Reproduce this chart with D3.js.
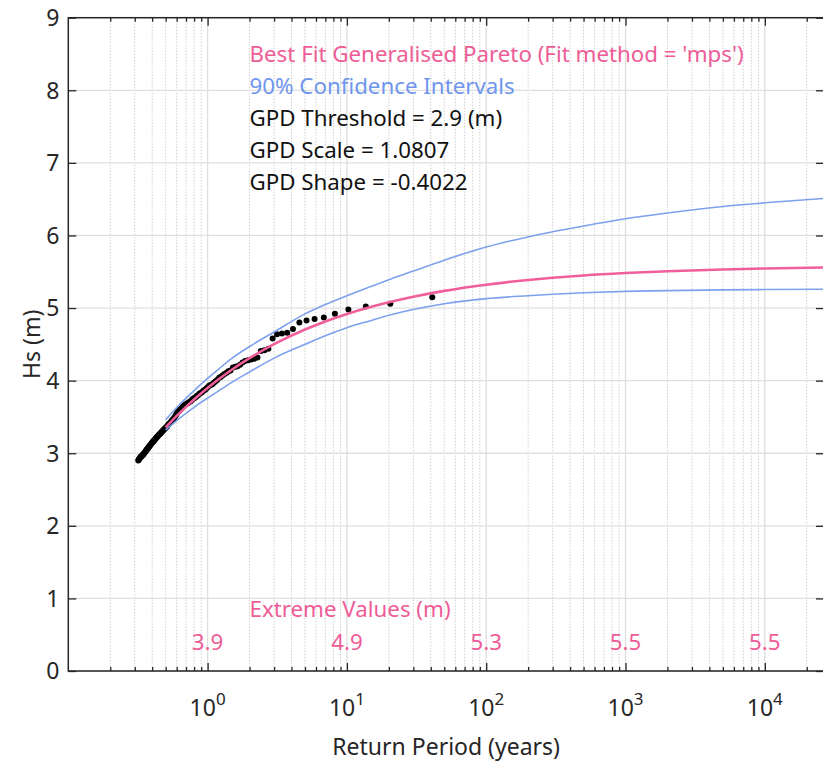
<!DOCTYPE html>
<html>
<head>
<meta charset="utf-8">
<script src="https://d3js.org/d3.v7.min.js"></script>
<style>
  body { margin: 0; background: #fff; }
  text { font-family: "Noto Sans", sans-serif; }
</style>
</head>
<body>
<div id="chart"></div>
<script>
// observed peaks over threshold: empirical return period (years) and Hs (m)
var obsT = [41.0, 20.5, 13.67, 10.25, 8.2, 6.83, 5.86, 5.13, 4.56, 4.10,
  3.73, 3.42, 3.15, 2.93, 2.73, 2.56, 2.41, 2.28, 2.16, 2.05,
  1.95, 1.86, 1.78, 1.71, 1.64, 1.58, 1.52, 1.46, 1.41, 1.37,
  1.32, 1.28, 1.24, 1.21, 1.17, 1.14, 1.11, 1.08, 1.05, 1.025,
  1.0, 0.976, 0.953, 0.932, 0.911, 0.891, 0.872, 0.854, 0.837, 0.82,
  0.804, 0.788, 0.774, 0.759, 0.745, 0.732, 0.719, 0.707, 0.695, 0.683,
  0.672, 0.661, 0.651, 0.641, 0.631, 0.621, 0.612, 0.603, 0.594, 0.586,
  0.577, 0.569, 0.562, 0.554, 0.547, 0.539, 0.532, 0.526, 0.519, 0.513,
  0.506, 0.5, 0.494, 0.488, 0.482, 0.477, 0.471, 0.466, 0.461, 0.456,
  0.451, 0.446, 0.441, 0.436, 0.432, 0.427, 0.423, 0.418, 0.414, 0.41,
  0.406, 0.402, 0.398, 0.394, 0.39, 0.387, 0.383, 0.38, 0.376, 0.373,
  0.369, 0.366, 0.363, 0.36, 0.357, 0.353, 0.35, 0.347, 0.345, 0.342,
  0.339, 0.336, 0.333, 0.331, 0.328, 0.325, 0.323, 0.32, 0.318];
var obsHs = [5.15, 5.06, 5.02, 4.98, 4.92, 4.87, 4.85, 4.83, 4.80, 4.71,
  4.66, 4.65, 4.64, 4.58, 4.44, 4.42, 4.41, 4.32, 4.30, 4.29,
  4.28, 4.27, 4.25, 4.22, 4.20, 4.19, 4.18, 4.14, 4.13, 4.11,
  4.09, 4.07, 4.05, 4.04, 4.01, 3.99, 3.97, 3.95, 3.94, 3.93,
  3.91, 3.89, 3.87, 3.86, 3.84, 3.83, 3.82, 3.80, 3.79, 3.77,
  3.76, 3.75, 3.74, 3.72, 3.71, 3.70, 3.69, 3.68, 3.67, 3.66,
  3.65, 3.64, 3.62, 3.61, 3.60, 3.58, 3.57, 3.55, 3.53, 3.51,
  3.49, 3.47, 3.46, 3.45, 3.43, 3.42, 3.41, 3.40, 3.39, 3.37,
  3.36, 3.35, 3.34, 3.33, 3.32, 3.31, 3.30, 3.29, 3.28, 3.27,
  3.26, 3.25, 3.24, 3.23, 3.22, 3.21, 3.20, 3.19, 3.18, 3.17,
  3.16, 3.15, 3.14, 3.13, 3.12, 3.11, 3.10, 3.09, 3.08, 3.07,
  3.06, 3.05, 3.04, 3.03, 3.02, 3.01, 3.00, 2.99, 2.98, 2.98,
  2.97, 2.96, 2.95, 2.95, 2.94, 2.93, 2.92, 2.91, 2.90];

// best fit curve and 90% confidence bounds
var curveT  = [0.5, 0.6, 0.7, 0.85, 1, 1.2, 1.5, 2, 3, 5, 7, 10, 15, 20, 30, 50,
  100, 200, 300, 500, 1000, 2000, 5000, 10000, 26600];
var fitHs   = [3.357, 3.514, 3.639, 3.786, 3.900, 4.019, 4.154, 4.310, 4.502, 4.704,
  4.816, 4.919, 5.019, 5.081, 5.157, 5.237, 5.322, 5.387, 5.417, 5.449,
  5.482, 5.508, 5.532, 5.545, 5.559];
var upperHs = [3.46, 3.63, 3.76, 3.91, 4.03, 4.16, 4.31, 4.47, 4.67, 4.92,
  5.05, 5.17, 5.30, 5.39, 5.51, 5.66, 5.84, 5.98, 6.05, 6.13,
  6.23, 6.31, 6.40, 6.45, 6.51];
var lowerHs = [3.32, 3.45, 3.55, 3.67, 3.76, 3.86, 3.98, 4.12, 4.31, 4.50,
  4.62, 4.73, 4.83, 4.90, 4.98, 5.06, 5.13, 5.17, 5.19, 5.21,
  5.23, 5.24, 5.25, 5.255, 5.26];

// extreme values printed along the bottom
var extremeT = [1, 10, 100, 1000, 10000];
var extremeLabels = ["3.9", "4.9", "5.3", "5.5", "5.5"];

var yTicks = [0, 1, 2, 3, 4, 5, 6, 7, 8, 9];
var xDecades = [1, 10, 100, 1000, 10000];
var xExponents = ["0", "1", "2", "3", "4"];

var infoLines = [
  {text: "Best Fit Generalised Pareto (Fit method = 'mps')", color: "#ee5d97"},
  {text: "90% Confidence Intervals", color: "#6f96ec"},
  {text: "GPD Threshold = 2.9 (m)", color: "#111"},
  {text: "GPD Scale = 1.0807", color: "#111"},
  {text: "GPD Shape = -0.4022", color: "#111"}
];

var pink = "#f05f9c", blue = "#7ea1ee", axisCol = "#262626";

var margin = {top: 17.7, left: 68.3},
    width = 824 - margin.left,
    height = 671 - margin.top;

var x = d3.scaleLog().domain([0.1, 26600]).range([0, width]);
var y = d3.scaleLinear().domain([0, 9]).range([height, 0]);

var svg = d3.select("#chart").append("svg")
    .attr("width", 823)
    .attr("height", 767)
  .append("g")
    .attr("transform", "translate(" + margin.left + "," + margin.top + ")");

// minor log ticks
var minors = [];
[0.1, 1, 10, 100, 1000, 10000].forEach(function(d) {
  for (var k = 2; k <= 9; k++) {
    if (d * k <= 26600) minors.push(d * k);
  }
});

// grid
svg.append("g").selectAll("line.minor")
    .data(minors)
  .enter().append("line")
    .attr("x1", function(d) { return x(d); })
    .attr("x2", function(d) { return x(d); })
    .attr("y1", 0).attr("y2", height)
    .attr("stroke", "#cfcfcf")
    .attr("stroke-width", 1)
    .attr("stroke-dasharray", "1.5,1.5");

svg.append("g").selectAll("line.major")
    .data(xDecades)
  .enter().append("line")
    .attr("x1", function(d) { return x(d); })
    .attr("x2", function(d) { return x(d); })
    .attr("y1", 0).attr("y2", height)
    .attr("stroke", "#dedede")
    .attr("stroke-width", 1.3);

svg.append("g").selectAll("line.hgrid")
    .data(yTicks)
  .enter().append("line")
    .attr("x1", 0).attr("x2", width)
    .attr("y1", function(d) { return y(d); })
    .attr("y2", function(d) { return y(d); })
    .attr("stroke", "#e0e0e0")
    .attr("stroke-width", 1.3);

// data points
svg.append("g").selectAll("circle")
    .data(obsT)
  .enter().append("circle")
    .attr("cx", function(d) { return x(d); })
    .attr("cy", function(d, i) { return y(obsHs[i]); })
    .attr("r", 3)
    .attr("fill", "#000");

var line = d3.line()
    .x(function(d) { return x(d[0]); })
    .y(function(d) { return y(d[1]); })
    .curve(d3.curveMonotoneX);

function pairs(vals) {
  return curveT.map(function(t, i) { return [t, vals[i]]; });
}

svg.append("path").datum(pairs(upperHs))
    .attr("d", line).attr("fill", "none")
    .attr("stroke", blue).attr("stroke-width", 1.6);
svg.append("path").datum(pairs(lowerHs))
    .attr("d", line).attr("fill", "none")
    .attr("stroke", blue).attr("stroke-width", 1.6);
svg.append("path").datum(pairs(fitHs))
    .attr("d", line).attr("fill", "none")
    .attr("stroke", pink).attr("stroke-width", 2.6);

// axes (ticks inside, MATLAB style)
svg.append("g").attr("transform", "translate(0," + height + ")")
    .call(d3.axisBottom(x).tickValues(xDecades).tickSize(-8).tickSizeOuter(0).tickFormat(""));
svg.append("g").attr("transform", "translate(0," + height + ")")
    .call(d3.axisBottom(x).tickValues(minors).tickSize(-4).tickSizeOuter(0).tickFormat(""));
svg.append("g")
    .call(d3.axisTop(x).tickValues(xDecades).tickSize(-8).tickSizeOuter(0).tickFormat(""));
svg.append("g")
    .call(d3.axisTop(x).tickValues(minors).tickSize(-4).tickSizeOuter(0).tickFormat(""));
svg.append("g")
    .call(d3.axisLeft(y).tickValues(yTicks).tickSize(-8).tickSizeOuter(0).tickFormat(""));
svg.append("g").attr("transform", "translate(" + width + ",0)")
    .call(d3.axisRight(y).tickValues(yTicks).tickSize(-8).tickSizeOuter(0).tickFormat(""));

svg.selectAll(".domain").remove();
svg.selectAll(".tick line").attr("stroke", axisCol).attr("stroke-width", 1.3);

svg.append("rect")
    .attr("x", 0).attr("y", 0)
    .attr("width", width).attr("height", height)
    .attr("fill", "none")
    .attr("stroke", axisCol)
    .attr("stroke-width", 1.5);

// tick labels
svg.append("g").selectAll("text")
    .data(yTicks)
  .enter().append("text")
    .attr("x", -9)
    .attr("y", function(d) { return y(d); })
    .attr("dy", "0.36em")
    .attr("text-anchor", "end")
    .style("font-size", "23px")
    .attr("fill", axisCol)
    .text(function(d) { return d; });

var xl = svg.append("g").selectAll("text")
    .data(xDecades)
  .enter().append("text")
    .attr("x", function(d) { return x(d); })
    .attr("y", height + 45)
    .attr("text-anchor", "middle")
    .style("font-size", "23px")
    .attr("fill", axisCol);
xl.append("tspan").text("10");
xl.append("tspan")
    .attr("dy", -11)
    .style("font-size", "17px")
    .text(function(d, i) { return xExponents[i]; });

// axis labels
svg.append("text")
    .attr("x", width / 2)
    .attr("y", height + 84)
    .attr("text-anchor", "middle")
    .style("font-size", "23px")
    .attr("fill", axisCol)
    .text("Return Period (years)");

svg.append("text")
    .attr("transform", "rotate(-90)")
    .attr("x", -height / 2)
    .attr("y", -28)
    .attr("text-anchor", "middle")
    .style("font-size", "23px")
    .attr("fill", axisCol)
    .text("Hs (m)");

// fit info
svg.append("g").selectAll("text")
    .data(infoLines)
  .enter().append("text")
    .attr("x", x(2))
    .attr("y", function(d, i) { return y(8.5) + 8 + i * 32.1; })
    .style("font-size", "22.3px")
    .attr("fill", function(d) { return d.color; })
    .text(function(d) { return d.text; });

// extreme values
svg.append("text")
    .attr("x", x(2))
    .attr("y", y(0.85) + 7.5)
    .style("font-size", "22.3px")
    .attr("fill", "#ee5d97")
    .text("Extreme Values (m)");

svg.append("g").selectAll("text")
    .data(extremeT)
  .enter().append("text")
    .attr("x", function(d) { return x(d); })
    .attr("y", y(0.4) + 8)
    .attr("text-anchor", "middle")
    .style("font-size", "22.3px")
    .attr("fill", "#ee5d97")
    .text(function(d, i) { return extremeLabels[i]; });
</script>
</body>
</html>
